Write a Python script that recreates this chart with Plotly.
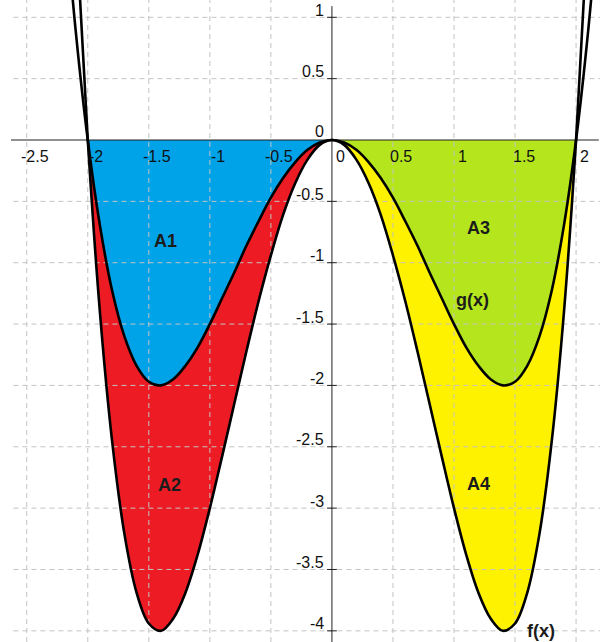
import plotly.graph_objects as go

# dados (passo 0.1)
xs = [-2.2, -2.1, -2.0, -1.9, -1.8, -1.7, -1.6, -1.5, -1.4, -1.3, -1.2, -1.1, -1.0,
      -0.9, -0.8, -0.7, -0.6, -0.5, -0.4, -0.3, -0.2, -0.1, 0.0,
      0.1, 0.2, 0.3, 0.4, 0.5, 0.6, 0.7, 0.8, 0.9, 1.0, 1.1, 1.2, 1.3, 1.4,
      1.5, 1.6, 1.7, 1.8, 1.9, 2.0, 2.1, 2.2]
f_vals = [4.07, 1.81, 0.0, -1.41, -2.46, -3.21, -3.69, -3.94, -4.0, -3.9, -3.69, -3.38, -3.0,
          -2.58, -2.15, -1.72, -1.31, -0.94, -0.61, -0.35, -0.16, -0.04, 0.0,
          -0.04, -0.16, -0.35, -0.61, -0.94, -1.31, -1.72, -2.15, -2.58, -3.0, -3.38, -3.69, -3.9, -4.0,
          -3.94, -3.69, -3.21, -2.46, -1.41, 0.0, 1.81, 4.07]
g_vals = [2.03, 0.9, 0.0, -0.7, -1.23, -1.6, -1.84, -1.97, -2.0, -1.95, -1.84, -1.69, -1.5,
          -1.29, -1.08, -0.86, -0.66, -0.47, -0.31, -0.18, -0.08, -0.02, 0.0,
          -0.02, -0.08, -0.18, -0.31, -0.47, -0.66, -0.86, -1.08, -1.29, -1.5, -1.69, -1.84, -1.95, -2.0,
          -1.97, -1.84, -1.6, -1.23, -0.7, 0.0, 0.9, 2.03]

x_ticks = [-2.5, -2, -1.5, -1, -0.5, 0.5, 1, 1.5, 2]
y_ticks = [-4, -3.5, -3, -2.5, -2, -1.5, -1, -0.5, 0.5, 1]

# rotulos das areas e das curvas
rotulos = ["A1", "A2", "A3", "A4", "g(x)", "f(x)"]
rotulos_x = [-1.36, -1.33, 1.2, 1.2, 1.15, 1.71]
rotulos_y = [-0.82, -2.81, -0.72, -2.8, -1.3, -4.0]

cores = {"A1": "#00a2e8", "A2": "#ed1c24", "A3": "#b5e61d", "A4": "#fff200"}

x_range = [-2.629, 2.196]
y_range = [-4.091, 1.141]

fig = go.Figure()


# funcao que preenche entre zero, g e f num intervalo
def preencher(i0, i1, cor_cima, cor_baixo):
    xx = xs[i0:i1]
    fig.add_trace(go.Scatter(x=xx, y=[0] * len(xx), mode="lines", line=dict(width=0),
                             line_shape="spline", showlegend=False, hoverinfo="skip"))
    fig.add_trace(go.Scatter(x=xx, y=g_vals[i0:i1], mode="lines", line=dict(width=0),
                             line_shape="spline", fill="tonexty", fillcolor=cor_cima,
                             showlegend=False, hoverinfo="skip"))
    fig.add_trace(go.Scatter(x=xx, y=f_vals[i0:i1], mode="lines", line=dict(width=0),
                             line_shape="spline", fill="tonexty", fillcolor=cor_baixo,
                             showlegend=False, hoverinfo="skip"))


i_m2 = xs.index(-2.0)
i_0 = xs.index(0.0)
i_p2 = xs.index(2.0)
preencher(i_m2, i_0 + 1, cores["A1"], cores["A2"])
preencher(i_0, i_p2 + 1, cores["A3"], cores["A4"])

# grade tracejada (por cima das areas)
gx, gy = [], []
for t in x_ticks:
    gx += [t, t, None]
    gy += [y_range[0], y_range[1], None]
for t in y_ticks:
    gx += [x_range[0] + 0.02, x_range[1], None]
    gy += [t, t, None]
fig.add_trace(go.Scatter(x=gx, y=gy, mode="lines",
                         line=dict(color="#c3c3c3", width=1, dash="5px,4px"),
                         showlegend=False, hoverinfo="skip"))

# eixos
fig.add_trace(go.Scatter(x=[x_range[0], x_range[1] - 0.01], y=[0, 0], mode="lines",
                         line=dict(color="#222222", width=1), showlegend=False, hoverinfo="skip"))
fig.add_trace(go.Scatter(x=[0, 0], y=[y_range[0], y_range[1] - 0.05], mode="lines",
                         line=dict(color="#222222", width=1), showlegend=False, hoverinfo="skip"))
fig.add_trace(go.Scatter(x=[0] * len(y_ticks), y=y_ticks, mode="markers",
                         marker=dict(symbol="line-ew", size=7, line=dict(color="#222222", width=1)),
                         showlegend=False, hoverinfo="skip"))

# curvas
for vals in [f_vals, g_vals]:
    fig.add_trace(go.Scatter(x=xs, y=vals, mode="lines", line_shape="spline",
                             line=dict(color="black", width=2.6), showlegend=False,
                             hoverinfo="skip"))

anot = []
fonte_eixo = dict(family="Liberation Sans, Arial", size=16, color="#111111")
for t in x_ticks + [0]:
    anot.append(dict(x=t, y=0, xref="x", yref="y", text=f"{t:g}", showarrow=False,
                     xanchor="center", yanchor="middle", xshift=8.5, yshift=-16,
                     font=fonte_eixo))
for t in y_ticks + [0]:
    anot.append(dict(x=0, y=t, xref="x", yref="y", text=f"{t:g}", showarrow=False,
                     xanchor="right", yanchor="middle", xshift=-6, yshift=7 if t != 0 else 9,
                     font=fonte_eixo))
for nome, rx, ry in zip(rotulos, rotulos_x, rotulos_y):
    anot.append(dict(x=rx, y=ry, xref="x", yref="y", text=f"<b>{nome}</b>", showarrow=False,
                     xanchor="center", yanchor="middle",
                     font=dict(family="Liberation Sans, Arial", size=18, color="#1c1c1c")))

fig.update_layout(
    width=604, height=642,
    margin=dict(l=11, r=4, t=0, b=0),
    plot_bgcolor="white", paper_bgcolor="white",
    xaxis=dict(range=x_range, showgrid=False, zeroline=False, showticklabels=False,
               ticks="", fixedrange=True),
    yaxis=dict(range=y_range, showgrid=False, zeroline=False, showticklabels=False,
               ticks="", fixedrange=True),
    annotations=anot,
    showlegend=False,
)

# tira a margem padrao do body para a figura ficar no canto
fig.write_html("out.html", config={"displayModeBar": False},
               post_script="document.body.style.margin='0';")
